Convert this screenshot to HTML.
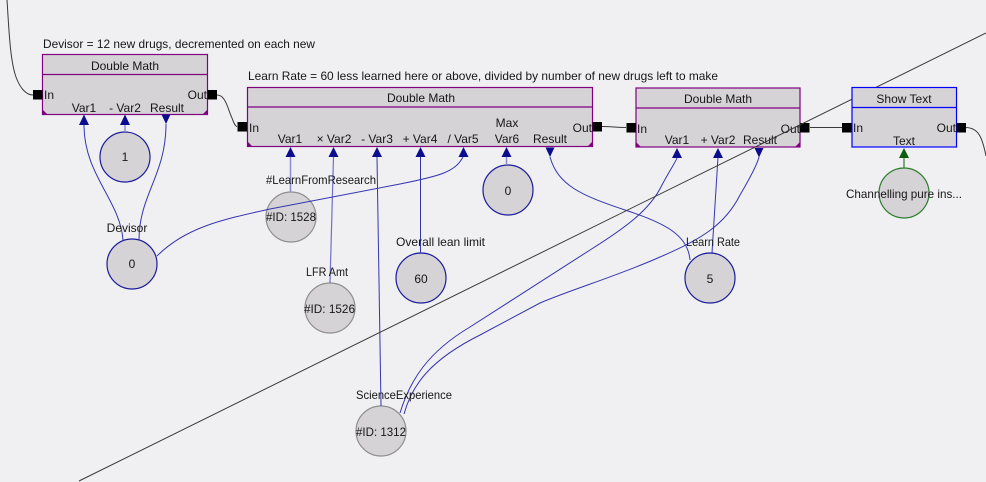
<!DOCTYPE html>
<html><head><meta charset="utf-8"><style>
html,body{margin:0;padding:0;background:#f0eff2;}
svg{display:block;}
text{font-family:"Liberation Sans",sans-serif;font-size:12px;fill:#161616;}
</style></head><body>
<svg width="986" height="482" viewBox="0 0 986 482" xmlns="http://www.w3.org/2000/svg">
<rect x="0" y="0" width="986" height="482" fill="#f0eff2"/>

<!-- black flow connectors -->
<g fill="none" stroke="#3a3a3a" stroke-width="1">
<path d="M7 0 C9 30,10 60,16 77 C20 88,26 95,33 95"/>
<path d="M217 95 C226 95,228 110,232 118 C234 124,236 126.5,237 126.5"/>
<path d="M602 126.5 C614 126.5,614 127.5,626 127.5"/>
<path d="M810 127.5 L842 127.5"/>
<path d="M966 127.5 C978 128,982 136,986 156"/>
</g>

<!-- circles -->
<g fill="#d5d3d6" stroke-width="1.2">
<circle cx="125" cy="157" r="25" stroke="#1c1c9c"/>
<circle cx="132" cy="264" r="25" stroke="#1c1c9c"/>
<circle cx="291" cy="217" r="25" stroke="#8f8f8f"/>
<circle cx="330" cy="308" r="25" stroke="#8f8f8f"/>
<circle cx="421" cy="278" r="25" stroke="#1c1c9c"/>
<circle cx="381" cy="431" r="25" stroke="#8f8f8f"/>
<circle cx="508" cy="190" r="25" stroke="#1c1c9c"/>
<circle cx="710" cy="278" r="25" stroke="#1c1c9c"/>
<circle cx="904" cy="193" r="25" stroke="#2e7d2e"/>
</g>

<!-- blue data connectors -->
<g fill="none" stroke="#3535b0" stroke-width="1">
<path d="M84 125 C84 175,120 200,123 240"/>
<path d="M166 124 C166 175,139 195,139 240" />
<path d="M125 125 L125 132" stroke="#8c8cd6" stroke-width="1.5"/>
<path d="M290.5 157 L290.5 192" stroke="#8c8cd6" stroke-width="1.5"/>
<path d="M333.5 157 L330 283" stroke="#7070c8" stroke-width="1.2"/>
<path d="M377 157 L381 406"/>
<path d="M420.5 157 L420.5 253"/>
<path d="M506.5 157 L506.5 165" stroke="#8c8cd6" stroke-width="1.5"/>
<path d="M157 256 C185 228,220 220,270 209 L400 184 C440 176,455 172,463 157"/>
<path d="M550 157 C558 185,580 195,625 210 C665 223,688 235,690 260"/>
<path d="M718 157 L712 253"/>
<path d="M400 413 C410 380,428 352,470 327 L590 250 C625 228,650 210,662 185 C670 170,675 163,677 158"/>
<path d="M404 414 C412 385,430 360,480 335 L540 303 C570 290,620 275,660 257 C700 240,725 225,740 195 C750 178,757 165,759 157"/>
</g>
<path d="M904 157 L904 168" stroke="#2e7d2e" stroke-width="1.2" fill="none"/>

<!-- Box 1 -->
<text x="43" y="48" textLength="272" lengthAdjust="spacingAndGlyphs">Devisor = 12 new drugs, decremented on each new</text>
<rect x="42.5" y="54.5" width="165" height="60" fill="#d5d3d6" stroke="#800080" stroke-width="1.2"/>
<line x1="42.5" y1="74.5" x2="207.5" y2="74.5" stroke="#800080" stroke-width="1.2"/>
<polygon points="43,114 43,110 47,114" fill="#800080"/>
<polygon points="207,114 207,110 203,114" fill="#800080"/>
<text x="125" y="70" text-anchor="middle">Double Math</text>
<text x="44" y="99">In</text>
<text x="207" y="99" text-anchor="end">Out</text>
<text x="84" y="112" text-anchor="middle">Var1</text>
<text x="125" y="112" text-anchor="middle">- Var2</text>
<text x="167" y="112" text-anchor="middle">Result</text>
<rect x="33" y="90" width="9.5" height="9.5" fill="#000"/>
<rect x="207.5" y="90" width="9.5" height="9.5" fill="#000"/>

<!-- Box 2 -->
<text x="248" y="80" textLength="470" lengthAdjust="spacingAndGlyphs">Learn Rate = 60 less learned here or above, divided by number of new drugs left to make</text>
<rect x="247.5" y="87.5" width="345" height="59" fill="#d5d3d6" stroke="#800080" stroke-width="1.2"/>
<line x1="247.5" y1="107" x2="592.5" y2="107" stroke="#800080" stroke-width="1.2"/>
<polygon points="248,146 248,142 252,146" fill="#800080"/>
<polygon points="592,146 592,142 588,146" fill="#800080"/>
<text x="421" y="102" text-anchor="middle">Double Math</text>
<text x="249" y="132">In</text>
<text x="592" y="132" text-anchor="end">Out</text>
<text x="290" y="143" text-anchor="middle">Var1</text>
<text x="334" y="143" text-anchor="middle">× Var2</text>
<text x="377" y="143" text-anchor="middle">- Var3</text>
<text x="420" y="143" text-anchor="middle">+ Var4</text>
<text x="463" y="143" text-anchor="middle">/ Var5</text>
<text x="507" y="127" text-anchor="middle">Max</text>
<text x="507" y="143" text-anchor="middle">Var6</text>
<text x="550" y="143" text-anchor="middle">Result</text>
<rect x="237.5" y="122" width="9.5" height="9.5" fill="#000"/>
<rect x="592.5" y="122" width="9.5" height="9.5" fill="#000"/>

<!-- Box 3 -->
<rect x="636" y="88" width="164" height="59" fill="#d5d3d6" stroke="#800080" stroke-width="1.2"/>
<line x1="636" y1="108" x2="800" y2="108" stroke="#800080" stroke-width="1.2"/>
<polygon points="636.5,146.5 636.5,142.5 640.5,146.5" fill="#800080"/>
<polygon points="799.5,146.5 799.5,142.5 795.5,146.5" fill="#800080"/>
<text x="718" y="103" text-anchor="middle">Double Math</text>
<text x="637" y="133">In</text>
<text x="800" y="133" text-anchor="end">Out</text>
<text x="677" y="144" text-anchor="middle">Var1</text>
<text x="718" y="144" text-anchor="middle">+ Var2</text>
<text x="760" y="144" text-anchor="middle">Result</text>
<rect x="626.5" y="123" width="9.5" height="9.5" fill="#000"/>
<rect x="800" y="123" width="9.5" height="9.5" fill="#000"/>

<!-- diagonal line (over box 3) -->
<line x1="79" y1="481" x2="986" y2="33" stroke="#3a3a3a" stroke-width="1"/>

<!-- Show Text box -->
<rect x="852" y="87.5" width="104.5" height="59.5" fill="#d5d3d6" stroke="#0000ff" stroke-width="1.2"/>
<line x1="852" y1="107.5" x2="956.5" y2="107.5" stroke="#0000ff" stroke-width="1.2"/>
<text x="904" y="103" text-anchor="middle">Show Text</text>
<text x="853" y="132">In</text>
<text x="956" y="132" text-anchor="end">Out</text>
<text x="904" y="145" text-anchor="middle">Text</text>
<rect x="842" y="123" width="9.5" height="9.5" fill="#000"/>
<rect x="956.5" y="123" width="9.5" height="9.5" fill="#000"/>

<!-- arrows -->
<g fill="#0c0c8e">
<polygon points="84,114.5 79,125 89,125"/>
<polygon points="125,114.5 120,125 130,125"/>
<polygon points="161.5,114.5 170.5,114.5 166,124"/>
<polygon points="290.5,147 285.5,157 295.5,157"/>
<polygon points="333.5,147 328.5,157 338.5,157"/>
<polygon points="377,147 372,157 382,157"/>
<polygon points="420.5,147 415.5,157 425.5,157"/>
<polygon points="463.5,147 458.5,157 468.5,157"/>
<polygon points="506.5,147 501.5,157 511.5,157"/>
<polygon points="545.5,147.5 554.5,147.5 550,157"/>
<polygon points="677,148 672,158 682,158"/>
<polygon points="718,148 713,158 723,158"/>
<polygon points="754.5,148 763.5,148 759,157.5"/>
</g>
<polygon points="904,148 899,158 909,158" fill="#0b5e0b"/>

<!-- node labels -->
<text x="125" y="161" text-anchor="middle">1</text>
<text x="127" y="232" text-anchor="middle">Devisor</text>
<text x="132" y="268" text-anchor="middle">0</text>
<text x="266" y="184" textLength="110" lengthAdjust="spacingAndGlyphs">#LearnFromResearch</text>
<text x="266" y="221" textLength="50" lengthAdjust="spacingAndGlyphs">#ID: 1528</text>
<text x="306" y="276" textLength="42" lengthAdjust="spacingAndGlyphs">LFR Amt</text>
<text x="304" y="313" textLength="51" lengthAdjust="spacingAndGlyphs">#ID: 1526</text>
<text x="396" y="246" textLength="89" lengthAdjust="spacingAndGlyphs">Overall lean limit</text>
<text x="421" y="283" text-anchor="middle">60</text>
<text x="356" y="399" textLength="96" lengthAdjust="spacingAndGlyphs">ScienceExperience</text>
<text x="356" y="436" textLength="50" lengthAdjust="spacingAndGlyphs">#ID: 1312</text>
<text x="508" y="195" text-anchor="middle">0</text>
<text x="686" y="246" textLength="54" lengthAdjust="spacingAndGlyphs">Learn Rate</text>
<text x="710" y="283" text-anchor="middle">5</text>
<text x="846" y="198" textLength="116" lengthAdjust="spacingAndGlyphs">Channelling pure ins...</text>
</svg>
</body></html>
